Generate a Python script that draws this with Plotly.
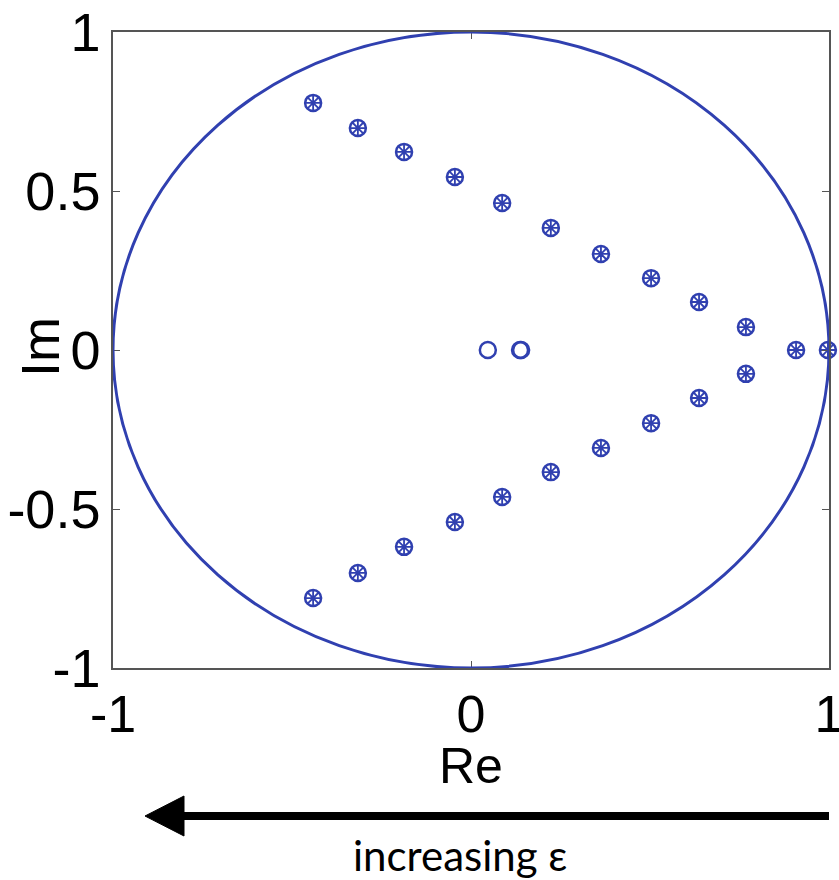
import plotly.graph_objects as go

# Data
upper_re = [-0.441, -0.316, -0.187, -0.045, 0.087, 0.223, 0.363, 0.503, 0.637, 0.768]
upper_im = [0.777, 0.698, 0.623, 0.544, 0.462, 0.384, 0.302, 0.226, 0.151, 0.072]
lower_re = [-0.441, -0.316, -0.187, -0.045, 0.087, 0.223, 0.363, 0.503, 0.637, 0.768]
lower_im = [-0.780, -0.701, -0.619, -0.541, -0.462, -0.384, -0.308, -0.230, -0.151, -0.075]
axis_re = [0.908, 0.997]
axis_im = [0.0, 0.0]
center_re = [0.047, 0.137, 0.140]
center_im = [0.0, 0.0, 0.0]

tick_vals = [-1, -0.5, 0, 0.5, 1]
x_tick_vals = [-1, 0, 1]
x_tick_text = ["-1", "0", "1"]
y_tick_text = ["-1", "-0.5", "0", "0.5", "1"]

BLUE = "#3040b0"

star_re = upper_re + lower_re + axis_re
star_im = upper_im + lower_im + axis_im
circ_re = star_re + center_re
circ_im = star_im + center_im

fig = go.Figure()
fig.add_trace(go.Scatter(
    x=circ_re, y=circ_im, mode="markers", cliponaxis=False,
    marker=dict(symbol="circle-open", size=16, color=BLUE, line=dict(width=2.5, color=BLUE)),
    showlegend=False, hoverinfo="skip"))
fig.add_trace(go.Scatter(
    x=star_re, y=star_im, mode="markers", cliponaxis=False,
    marker=dict(symbol="asterisk-open", size=13, color=BLUE, line=dict(width=1.8, color=BLUE)),
    showlegend=False, hoverinfo="skip"))

# unit circle
fig.add_shape(type="circle", xref="x", yref="y", x0=-1, y0=-1, x1=1, y1=1,
              line=dict(color=BLUE, width=3), layer="above")

FONT = "Liberation Sans, Arial, sans-serif"
fig.update_xaxes(range=[-1, 1], tickvals=x_tick_vals, ticktext=x_tick_text,
                 automargin=False, ticklabeloverflow="allow",
                 showgrid=False, zeroline=False, showline=True, linecolor="#555555",
                 linewidth=1.5, mirror="allticks", ticks="inside", ticklen=7,
                 tickcolor="#555555", tickfont=dict(family=FONT, size=52, color="black"))
fig.update_yaxes(range=[-1, 1], tickvals=tick_vals, ticktext=y_tick_text,
                 automargin=False, ticklabeloverflow="allow",
                 showgrid=False, zeroline=False, showline=True, linecolor="#555555",
                 linewidth=1.5, mirror="allticks", ticks="inside", ticklen=7,
                 tickcolor="#555555", tickfont=dict(family=FONT, size=54, color="black"))

# helpers: screen pixel -> paper coordinates (plot area 113..829 x 32..668)
def px(xp):
    return (xp - 113) / 716

def py(yp):
    return (668 - yp) / 636

fig.add_annotation(text="Re", xref="paper", yref="paper", x=px(471), y=py(766),
                   showarrow=False, xanchor="center", yanchor="middle",
                   font=dict(family=FONT, size=50, color="black"))
fig.add_annotation(text="Im", xref="paper", yref="paper", x=px(40), y=py(347),
                   showarrow=False, xanchor="center", yanchor="middle", textangle=-90,
                   font=dict(family=FONT, size=54, color="black"))

# arrow "increasing epsilon"
fig.add_shape(type="line", xref="paper", yref="paper", x0=px(829), x1=px(178),
              y0=py(816), y1=py(816), line=dict(color="black", width=8))
fig.add_shape(type="path", xref="paper", yref="paper",
              path=f"M {px(145)},{py(816)} L {px(184)},{py(796)} L {px(184)},{py(836)} Z",
              fillcolor="black", line=dict(color="black", width=1))
fig.add_annotation(text="increasing ε", xref="paper", yref="paper", x=px(460), y=py(855),
                   showarrow=False, xanchor="center", yanchor="middle",
                   font=dict(family="Lato, Carlito, sans-serif", size=42, color="black"))

fig.update_layout(width=839, height=880, margin=dict(l=113, r=10, t=32, b=212, autoexpand=False),
                  plot_bgcolor="white", paper_bgcolor="white")

fig.write_html("out.html", config={"displayModeBar": False},
               post_script="document.body.style.margin='0';document.body.style.overflow='hidden';")
